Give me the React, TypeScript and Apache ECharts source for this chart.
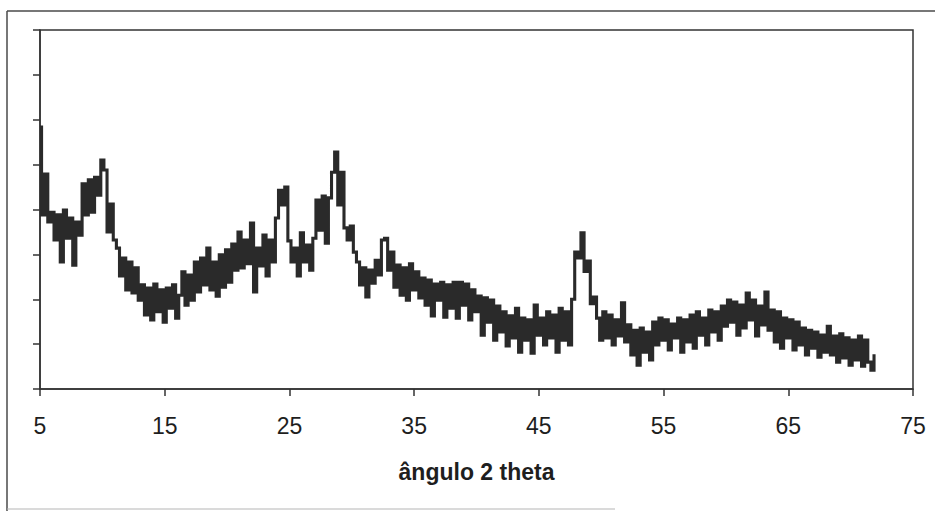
import React, { useEffect, useRef } from "react";
import * as echarts from "echarts";

// Diffraction scan: 2θ from 5° in 0.25° steps, intensity in arbitrary counts
const ANGLE_START = 5;
const ANGLE_STEP = 0.25;

const intensity = [
  584, 388, 479, 372, 394, 332, 388, 283, 399, 336, 381, 276, 372, 343, 457, 388,
  466, 394, 472, 432, 510, 488, 350, 412, 332, 314, 252, 292, 221, 283, 214, 270,
  198, 232, 165, 225, 154, 234, 172, 221, 149, 225, 180, 232, 158, 209, 261, 187,
  254, 198, 283, 216, 292, 232, 314, 221, 283, 207, 299, 227, 310, 238, 323, 265,
  350, 270, 332, 279, 370, 216, 314, 274, 343, 252, 332, 283, 381, 443, 410, 450,
  330, 283, 314, 252, 348, 283, 321, 265, 336, 421, 354, 430, 325, 426, 483, 528,
  410, 483, 359, 332, 363, 305, 283, 232, 270, 205, 265, 236, 287, 254, 332, 336,
  265, 305, 227, 276, 209, 270, 198, 279, 221, 261, 203, 247, 187, 243, 163, 234,
  198, 238, 160, 232, 180, 238, 158, 238, 187, 234, 154, 221, 172, 207, 120, 203,
  149, 198, 109, 185, 127, 172, 96, 163, 114, 180, 82, 158, 109, 154, 80, 187,
  120, 158, 98, 172, 114, 165, 82, 180, 109, 172, 98, 200, 305, 292, 348, 262,
  285, 190, 205, 158, 109, 172, 114, 165, 98, 154, 118, 192, 105, 143, 76, 131,
  53, 136, 82, 127, 65, 149, 98, 158, 109, 154, 87, 145, 114, 158, 82, 154,
  105, 165, 91, 172, 120, 158, 98, 176, 127, 172, 109, 185, 140, 198, 149, 194,
  120, 187, 136, 214, 154, 198, 118, 185, 143, 216, 131, 176, 105, 172, 91, 158,
  114, 154, 87, 149, 98, 136, 76, 131, 91, 127, 71, 120, 82, 140, 76, 118,
  60, 123, 69, 114, 53, 109, 65, 118, 51, 109, 60, 42, 74,
];

// Intensity axis: 0–800 in steps of 100, drawn without labels
const Y_MIN = 0;
const Y_MAX = 800;
const Y_STEP = 100;

// 2θ axis: ticks every 10° from 5° to 75°
const X_MIN = 5;
const X_MAX = 75;
const X_STEP = 10;

const AXIS_TITLE = "ângulo 2 theta";

export default function App() {
  const ref = useRef<HTMLDivElement>(null);

  useEffect(() => {
    if (!ref.current) return;
    const chart = echarts.init(ref.current, null, { renderer: "svg" });

    const points = intensity.map((v, i) => [ANGLE_START + i * ANGLE_STEP, v]);
    const axisColor = "#333333";
    const font = "'Liberation Sans', Arial, Helvetica, sans-serif";

    chart.setOption({
      animation: false,
      backgroundColor: "#ffffff",
      grid: {
        left: 40,
        top: 30,
        right: 22,
        bottom: 122,
        show: true,
        borderColor: axisColor,
        borderWidth: 1.5,
        backgroundColor: "transparent",
      },
      xAxis: {
        type: "value",
        min: X_MIN,
        max: X_MAX,
        interval: X_STEP,
        name: AXIS_TITLE,
        nameLocation: "middle",
        nameGap: 71,
        nameTextStyle: {
          fontFamily: font,
          fontSize: 23,
          fontWeight: "bold",
          color: "#1e1e1e",
        },
        axisLine: { show: true, onZero: false, lineStyle: { color: axisColor, width: 1.5 } },
        axisTick: { show: true, inside: false, length: 7, lineStyle: { color: axisColor, width: 1.5 } },
        axisLabel: {
          show: true,
          margin: 25,
          fontFamily: font,
          fontSize: 23,
          color: "#1e1e1e",
        },
        splitLine: { show: false },
      },
      yAxis: {
        type: "value",
        min: Y_MIN,
        max: Y_MAX,
        interval: Y_STEP,
        axisLine: { show: true, onZero: false, lineStyle: { color: axisColor, width: 1.5 } },
        axisTick: { show: true, inside: false, length: 7, lineStyle: { color: axisColor, width: 1.5 } },
        axisLabel: { show: false },
        splitLine: { show: false },
      },
      series: [
        {
          type: "line",
          data: points,
          step: "middle",
          showSymbol: false,
          symbol: "none",
          lineStyle: { color: "#2a2a2a", width: 3.1, join: "miter" },
          silent: true,
        },
      ],
      graphic: [
        {
          type: "line",
          shape: { x1: 7, y1: 11, x2: 7, y2: 511 },
          style: { stroke: "#4a4a4a", lineWidth: 1.5 },
          silent: true,
        },
        {
          type: "line",
          shape: { x1: 7, y1: 11, x2: 935, y2: 11 },
          style: { stroke: "#4a4a4a", lineWidth: 1.5 },
          silent: true,
        },
        {
          type: "line",
          shape: { x1: 7, y1: 509, x2: 615, y2: 509 },
          style: { stroke: "#b5b5b5", lineWidth: 1 },
          silent: true,
        },
      ],
    });

    return () => chart.dispose();
  }, []);

  return (
    <div
      ref={ref}
      style={{
        position: "fixed",
        left: 0,
        top: 0,
        width: 935,
        height: 511,
        background: "#ffffff",
      }}
    />
  );
}
